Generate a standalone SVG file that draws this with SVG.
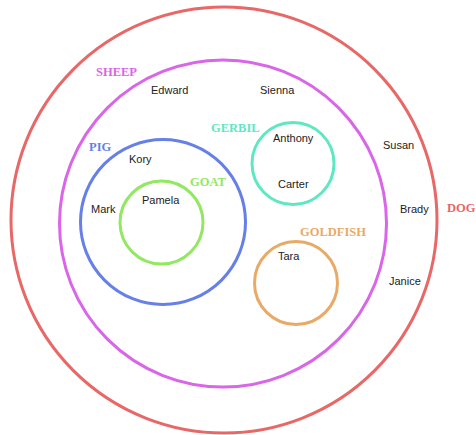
<svg xmlns="http://www.w3.org/2000/svg" width="476" height="435" viewBox="0 0 476 435">
<style>
.c{fill:none;stroke-width:3}
.l{font-family:"Liberation Serif",serif;font-weight:bold;font-size:12.5px}
.n{font-family:"Liberation Sans",Arial,sans-serif;font-size:11px;fill:#222}
</style>
<rect width="476" height="435" fill="#fff"/>
<g id="dog"><circle class="c" cx="224" cy="220" r="213" stroke="#e86868"/><text class="l" x="447" y="212" fill="#e86868">DOG</text></g>
<g id="sheep"><circle class="c" cx="223" cy="223.5" r="163.5" stroke="#d966e8"/><text class="l" x="96" y="76" fill="#d966e8">SHEEP</text></g>
<g id="pig"><circle class="c" cx="163" cy="222" r="82.5" stroke="#6680e8"/><text class="l" x="89" y="151" fill="#6680e8">PIG</text></g>
<g id="goat"><circle class="c" cx="161.5" cy="222.5" r="41.5" stroke="#92e860"/><text class="l" x="190" y="186" fill="#92e860">GOAT</text></g>
<g id="gerbil"><circle class="c" cx="293" cy="163.5" r="41" stroke="#5ee8c2"/><text class="l" x="211" y="132" fill="#5ee8c2">GERBIL</text></g>
<g id="goldfish"><circle class="c" cx="296" cy="283" r="41.5" stroke="#e8aa66"/><text class="l" x="300" y="235.5" fill="#e8aa66">GOLDFISH</text></g>
<g id="names">
<text class="n" x="151" y="94">Edward</text>
<text class="n" x="260" y="94">Sienna</text>
<text class="n" x="273" y="142">Anthony</text>
<text class="n" x="129" y="163">Kory</text>
<text class="n" x="383" y="149">Susan</text>
<text class="n" x="278" y="188">Carter</text>
<text class="n" x="91" y="212.5">Mark</text>
<text class="n" x="142" y="204">Pamela</text>
<text class="n" x="400" y="213">Brady</text>
<text class="n" x="278" y="260">Tara</text>
<text class="n" x="389" y="285">Janice</text>
</g>
</svg>
